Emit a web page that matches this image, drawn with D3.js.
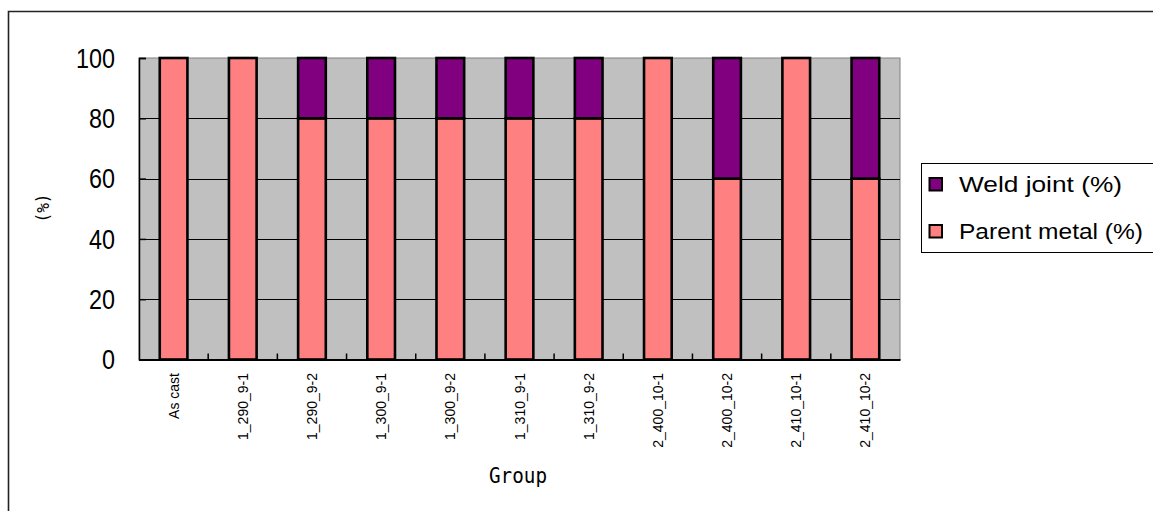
<!DOCTYPE html>
<html>
<head>
<meta charset="utf-8">
<script src="https://cdn.jsdelivr.net/npm/d3@7"></script>
<style>
  html, body { margin: 0; padding: 0; background: #fff; }
  svg { display: block; }
</style>
</head>
<body>
<svg id="chart" width="1153" height="511"></svg>
<script>
// Specimen groups and the share of fractures in each location (%)
const groups = ["As cast", "1_290_9-1", "1_290_9-2", "1_300_9-1", "1_300_9-2",
  "1_310_9-1", "1_310_9-2", "2_400_10-1", "2_400_10-2", "2_410_10-1", "2_410_10-2"];
const parentMetal = [100, 100, 80, 80, 80, 80, 80, 100, 60, 100, 60];
const weldJoint = [0, 0, 20, 20, 20, 20, 20, 0, 40, 0, 40];
const yTicks = [0, 20, 40, 60, 80, 100];
const seriesNames = ["Weld joint (%)", "Parent metal (%)"];
const seriesColors = ["#800080", "#FF8080"];

const svg = d3.select("#chart");
const W = 1153, H = 511;
const plot = { left: 139, right: 900, top: 58, bottom: 359.5 };

// Outer chart frame (only top and left edges fall inside the canvas)
svg.append("path")
  .attr("d", `M8.5,${H} V11.5 H${W}`)
  .attr("fill", "none").attr("stroke", "#222").attr("stroke-width", 1.6);

const x = d3.scaleBand().domain(groups).range([plot.left, plot.right]).paddingInner(0).paddingOuter(0);
const y = d3.scaleLinear().domain([0, 100]).range([plot.bottom, plot.top]);
const barW = x.bandwidth() / 2.5;

// Plot background
svg.append("rect")
  .attr("x", plot.left).attr("y", plot.top)
  .attr("width", plot.right - plot.left).attr("height", plot.bottom - plot.top)
  .attr("fill", "#C0C0C0").attr("stroke", "#808080").attr("stroke-width", 1);

// Horizontal gridlines
svg.append("g").selectAll("line")
  .data(yTicks.filter(t => t > 0 && t < 100))
  .join("line")
  .attr("x1", plot.left).attr("x2", plot.right)
  .attr("y1", d => Math.round(y(d)) + 0.5).attr("y2", d => Math.round(y(d)) + 0.5)
  .attr("stroke", "#000").attr("stroke-width", 1);

// Stacked bars: parent metal at the bottom, weld joint on top
const stackData = groups.map((g, i) => ({ group: g, parent: parentMetal[i], weld: weldJoint[i] }));
const stack = d3.stack().keys(["parent", "weld"])(stackData);
const keyColor = { parent: seriesColors[1], weld: seriesColors[0] };

stack.forEach(layer => {
  svg.append("g").selectAll("rect")
    .data(layer.filter(d => d[1] - d[0] > 0))
    .join("rect")
    .attr("x", d => x(d.data.group) + (x.bandwidth() - barW) / 2)
    .attr("y", d => y(d[1]))
    .attr("width", barW)
    .attr("height", d => y(d[0]) - y(d[1]))
    .attr("fill", keyColor[layer.key])
    .attr("stroke", "#000").attr("stroke-width", 2.6);
});

// Y axis
const yAxis = d3.axisLeft(y).tickValues(yTicks).tickSize(-7).tickFormat("");
const yg = svg.append("g").attr("transform", `translate(${plot.left},0)`).call(yAxis);
yg.select(".domain").attr("stroke", "#000").attr("stroke-width", 1.5);
yg.selectAll(".tick line").attr("stroke", "#000").attr("stroke-width", 1.5);

svg.append("g").selectAll("text")
  .data(yTicks)
  .join("text")
  .attr("x", 115).attr("y", d => y(d))
  .attr("dy", "0.36em")
  .attr("text-anchor", "end")
  .attr("font-family", "'Liberation Sans', Arial, sans-serif")
  .attr("font-size", 27)
  .attr("textLength", d => String(d).length * 13)
  .attr("lengthAdjust", "spacingAndGlyphs")
  .attr("fill", "#000")
  .text(d => d);

// X axis with ticks between groups
const xAxis = d3.axisBottom(x).tickSize(0).tickFormat("");
const xg = svg.append("g").attr("transform", `translate(0,${plot.bottom})`).call(xAxis);
xg.select(".domain").attr("stroke", "#000").attr("stroke-width", 2);
svg.append("g").selectAll("line")
  .data(groups.slice(1))
  .join("line")
  .attr("x1", d => x(d)).attr("x2", d => x(d))
  .attr("y1", plot.bottom).attr("y2", plot.bottom - 6)
  .attr("stroke", "#000").attr("stroke-width", 1.5);

svg.append("g").selectAll("text")
  .data(groups)
  .join("text")
  .attr("transform", d => `translate(${x(d) + x.bandwidth() / 2 + 5},373) rotate(-90)`)
  .attr("text-anchor", "end")
  .attr("font-family", "'Liberation Sans', Arial, sans-serif")
  .attr("font-size", 14)
  .attr("fill", "#000")
  .text(d => d);

// Axis titles
svg.append("text")
  .attr("transform", "translate(49,208) rotate(-90)")
  .attr("text-anchor", "middle")
  .attr("font-family", "'DejaVu Sans Mono', monospace")
  .attr("font-size", 18)
  .attr("textLength", 29)
  .attr("lengthAdjust", "spacingAndGlyphs")
  .attr("fill", "#000")
  .text("(%)");

svg.append("text")
  .attr("x", 518).attr("y", 483)
  .attr("text-anchor", "middle")
  .attr("font-family", "'DejaVu Sans Mono', monospace")
  .attr("font-size", 22)
  .attr("textLength", 58)
  .attr("lengthAdjust", "spacingAndGlyphs")
  .attr("fill", "#000")
  .text("Group");

// Legend
const legend = svg.append("g");
legend.append("rect")
  .attr("x", 921.5).attr("y", 163.5).attr("width", 240).attr("height", 89)
  .attr("fill", "#fff").attr("stroke", "#000").attr("stroke-width", 1);
const legendRows = [
  { name: seriesNames[0], color: seriesColors[0], cy: 184, len: 163 },
  { name: seriesNames[1], color: seriesColors[1], cy: 231, len: 184 }
];
legendRows.forEach(r => {
  legend.append("rect")
    .attr("x", 929.5).attr("y", r.cy - 6).attr("width", 12.5).attr("height", 12.5)
    .attr("fill", r.color).attr("stroke", "#000").attr("stroke-width", 2);
  legend.append("text")
    .attr("x", 959).attr("y", r.cy + 8)
    .attr("font-family", "'Liberation Sans', Arial, sans-serif")
    .attr("font-size", 22.5)
    .attr("textLength", r.len)
    .attr("lengthAdjust", "spacingAndGlyphs")
    .attr("fill", "#000")
    .text(r.name);
});
</script>
</body>
</html>
